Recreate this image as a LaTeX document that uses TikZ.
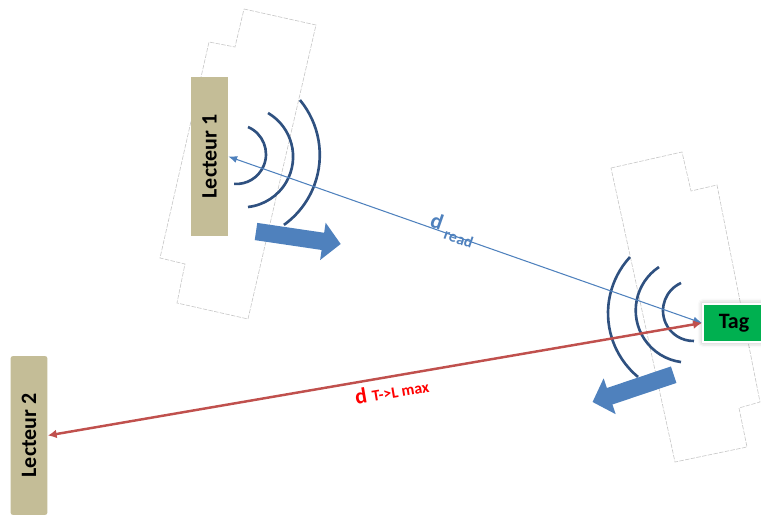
\documentclass[tikz,border=0pt]{standalone}
\usepackage{fontspec}
\usepackage{graphicx}
\setmainfont{Carlito}
\usetikzlibrary{arrows.meta,shadows.blur}
\definecolor{beigeLecteur}{HTML}{C4BD97}
\definecolor{vertTag}{HTML}{00B050}
\definecolor{bleuLien}{HTML}{4F81BD}
\definecolor{bleuOnde}{HTML}{2F5180}
\definecolor{rougeLien}{HTML}{C0504D}
\begin{document}
\begin{tikzpicture}[x=0.02cm,y=-0.02cm,
  font=\bfseries\fontsize{12.5}{14}\selectfont,
  contour/.style={draw=black!22,line width=.35pt,dash pattern=on 2.5pt off .8pt},
  lecteur/.style={fill=beigeLecteur,minimum width=.74cm,minimum height=3.18cm,inner sep=0pt},
  onde/.style={draw=bleuOnde,line width=1.5pt},
  bloc/.style={fill=bleuLien},
  lienBleu/.style={draw=bleuLien,line width=.6pt,
    {Latex[length=5pt,width=4pt]}-{Latex[length=5pt,width=4pt]}},
  lienRouge/.style={draw=rougeLien,line width=1.4pt,
    {Latex[length=5pt,width=5pt]}-{Latex[length=5pt,width=5pt]}}]
  \useasboundingbox (0,0) rectangle (761,516);
  \draw[contour] (244,9) -- (316,25) -- (248,319) -- (177,303) -- (185,264)
    -- (160,258) -- (209,42) -- (235,47) -- cycle;
  \draw[contour] (611,168) -- (682,152) -- (691,191) -- (717,185) -- (760,402)
    -- (739,408) -- (747,447) -- (675,462) -- cycle;
  \node[lecteur] (lecteurA) at (209.5,156.5) {\rotatebox{90}{Lecteur 1}};
  \node[lecteur,rounded corners=1.5pt] (lecteurB) at (29,435.5) {\rotatebox{90}{Lecteur 2}};
  \node[fill=vertTag,draw=white,line width=1.2pt,minimum width=1.24cm,
    minimum height=.76cm,inner sep=0pt,
    blur shadow={shadow xshift=0pt,shadow yshift=0pt,shadow blur radius=3pt,shadow opacity=35}]
    (tag) at (734,323) {Tag};
  \draw[onde] (236.3,154.3) ++(66.8:.594cm) arc[start angle=66.8,end angle=-94.4,radius=.594cm];
  \draw[onde] (242.5,156.7) ++(59.7:1.012cm) arc[start angle=59.7,end angle=-83.8,radius=1.012cm];
  \draw[onde] (233.7,155) ++(39.7:1.722cm) arc[start angle=39.7,end angle=-54.3,radius=1.722cm];
  \draw[onde] (693.3,310.7) ++(113.9:.606cm) arc[start angle=113.9,end angle=271.3,radius=.606cm];
  \draw[onde] (687.8,310.4) ++(123.6:1.042cm) arc[start angle=123.6,end angle=262.5,radius=1.042cm];
  \draw[onde] (690.8,313.2) ++(137.3:1.656cm) arc[start angle=137.3,end angle=230.4,radius=1.656cm];
  \fill[bloc,shift={(256,231.5)},rotate=-8.4] (0,-8.7) -- (67.6,-8.7) -- (67.6,-18.9)
    -- (85.6,0) -- (67.6,18.9) -- (67.6,8.7) -- (0,8.7) -- cycle;
  \fill[bloc,shift={(673.7,374.7)},rotate=198.6] (0,-8.7) -- (67.6,-8.7) -- (67.6,-18.9)
    -- (85.6,0) -- (67.6,18.9) -- (67.6,8.7) -- (0,8.7) -- cycle;
  \draw[lienBleu] (lecteurA.east) -- (tag.west)
    node[pos=.47,sloped,above=-4pt,inner sep=0pt,text=bleuLien]
    {d\hspace{3pt}\raisebox{-4pt}{\fontsize{9}{10}\selectfont read}};
  \draw[lienRouge] (lecteurB.east) -- (tag.west)
    node[pos=.522,sloped,below=3pt,inner sep=0pt,text=red]
    {d\hspace{3pt}{\fontsize{9}{10}\selectfont T->L max}};
\end{tikzpicture}
\end{document}
